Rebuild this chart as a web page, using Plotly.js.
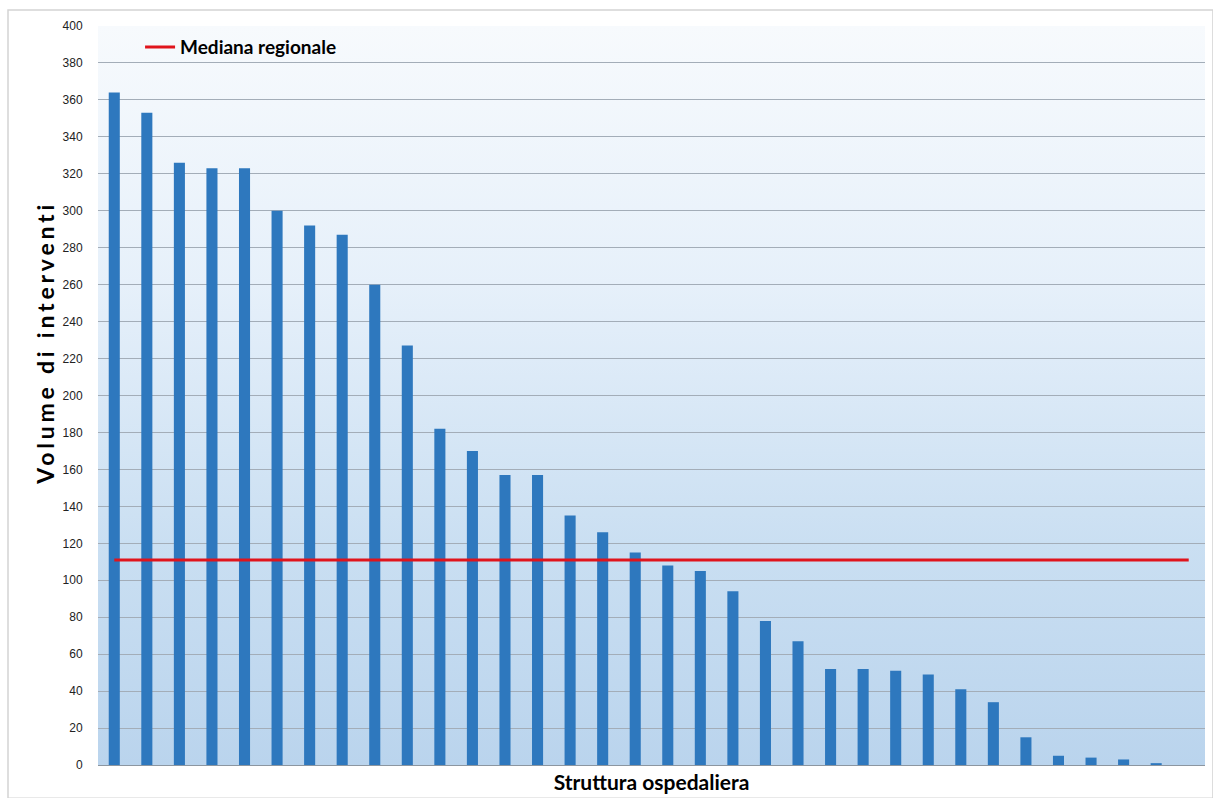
<!DOCTYPE html>
<html>
<head>
<meta charset="utf-8">
<script src="https://cdn.plot.ly/plotly-3.0.1.min.js"></script>
<style>
html,body{margin:0;padding:0;background:#fff;}
#chart{width:1213px;height:798px;}
#chart .annotation-text{letter-spacing:3.8px;}
</style>
</head>
<body>
<div id="chart"></div>
<script>
const structures = Array.from({length: 33}, (_, i) => "S" + (i + 1));
const volumes = [364,353,326,323,323,300,292,287,260,227,182,170,157,157,135,126,115,108,105,94,78,67,52,52,51,49,41,34,15,5,4,3,1];
const medianValue = 111;
const medianLabel = "Mediana regionale";
const yTitle = "Volume di interventi";
const xTitle = "Struttura ospedaliera";
const yTicks = [0,20,40,60,80,100,120,140,160,180,200,220,240,260,280,300,320,340,360,380,400];

const xIdx = volumes.map((_, i) => i);

const gradSvg = '<svg xmlns="http://www.w3.org/2000/svg" width="100" height="100" preserveAspectRatio="none">' +
  '<defs><linearGradient id="g" x1="0" y1="0" x2="0" y2="1">' +
  '<stop offset="0" stop-color="#f7fafd"/>' +
  '<stop offset="0.35" stop-color="#e6f0fa"/>' +
  '<stop offset="0.7" stop-color="#cadff2"/>' +
  '<stop offset="1" stop-color="#bad4ed"/>' +
  '</linearGradient></defs><rect width="100" height="100" fill="url(#g)"/></svg>';
const gradUri = 'data:image/svg+xml;charset=utf-8,' + encodeURIComponent(gradSvg);

const bars = {
  type: 'bar',
  x: xIdx,
  y: volumes,
  text: structures,
  hoverinfo: 'text+y',
  textposition: 'none',
  width: 0.34,
  marker: {color: '#2e78be', line: {width: 0}},
  showlegend: false
};

const median = {
  type: 'scatter',
  mode: 'lines',
  x: [0, volumes.length],
  y: [medianValue, medianValue],
  line: {color: '#e0141c', width: 3},
  name: medianLabel,
  showlegend: true
};

const layout = {
  width: 1213,
  height: 798,
  margin: {l: 98, r: 8, t: 26, b: 33},
  paper_bgcolor: '#ffffff',
  plot_bgcolor: 'rgba(0,0,0,0)',
  font: {family: 'Lato, "Noto Sans", sans-serif', color: '#000'},
  images: [{
    source: gradUri,
    xref: 'paper', yref: 'paper',
    x: 0, y: 1, sizex: 1, sizey: 1,
    sizing: 'stretch', layer: 'below',
    xanchor: 'left', yanchor: 'top'
  }],
  xaxis: {
    range: [-0.5, 33.5],
    showticklabels: false,
    ticks: '',
    showgrid: false,
    zeroline: false,
    showline: false,
    title: {text: xTitle, font: {size: 21, family: 'Lato, sans-serif', color: '#000', weight: 'bold'}, standoff: 10}
  },
  yaxis: {
    range: [0, 400],
    tickvals: yTicks,
    ticktext: yTicks.map(String),
    tickfont: {size: 12, color: '#222', family: '"Liberation Sans", sans-serif'},
    ticks: 'outside',
    ticklen: 12,
    tickcolor: 'rgba(0,0,0,0)',
    showgrid: true,
    gridcolor: '#a3adb8',
    gridwidth: 1,
    zeroline: true,
    zerolinecolor: '#8c96a0',
    zerolinewidth: 1,
    showline: false
  },
  annotations: [{
    text: yTitle,
    xref: 'paper', yref: 'paper',
    x: -0.0479, y: 0.571,
    xanchor: 'center', yanchor: 'middle',
    textangle: -90,
    showarrow: false,
    font: {size: 23, family: 'Lato, sans-serif', color: '#000', weight: 'bold'}
  }],
  legend: {
    x: 0.038, y: 0.997, xanchor: 'left', yanchor: 'top',
    bgcolor: 'rgba(0,0,0,0)',
    font: {size: 19, family: 'Lato, sans-serif', color: '#000', weight: 'bold'},
    itemwidth: 30
  },
  shapes: [{
    type: 'rect', xref: 'paper', yref: 'paper',
    x0: -0.0813, x1: 1.0072, y0: -0.045, y1: 1.0217,
    line: {color: '#d4d4d4', width: 1.5}, fillcolor: 'rgba(0,0,0,0)', layer: 'below'
  }],
  bargap: 0.5
};

Plotly.newPlot('chart', [bars, median], layout, {displayModeBar: false, staticPlot: true});
</script>
</body>
</html>
